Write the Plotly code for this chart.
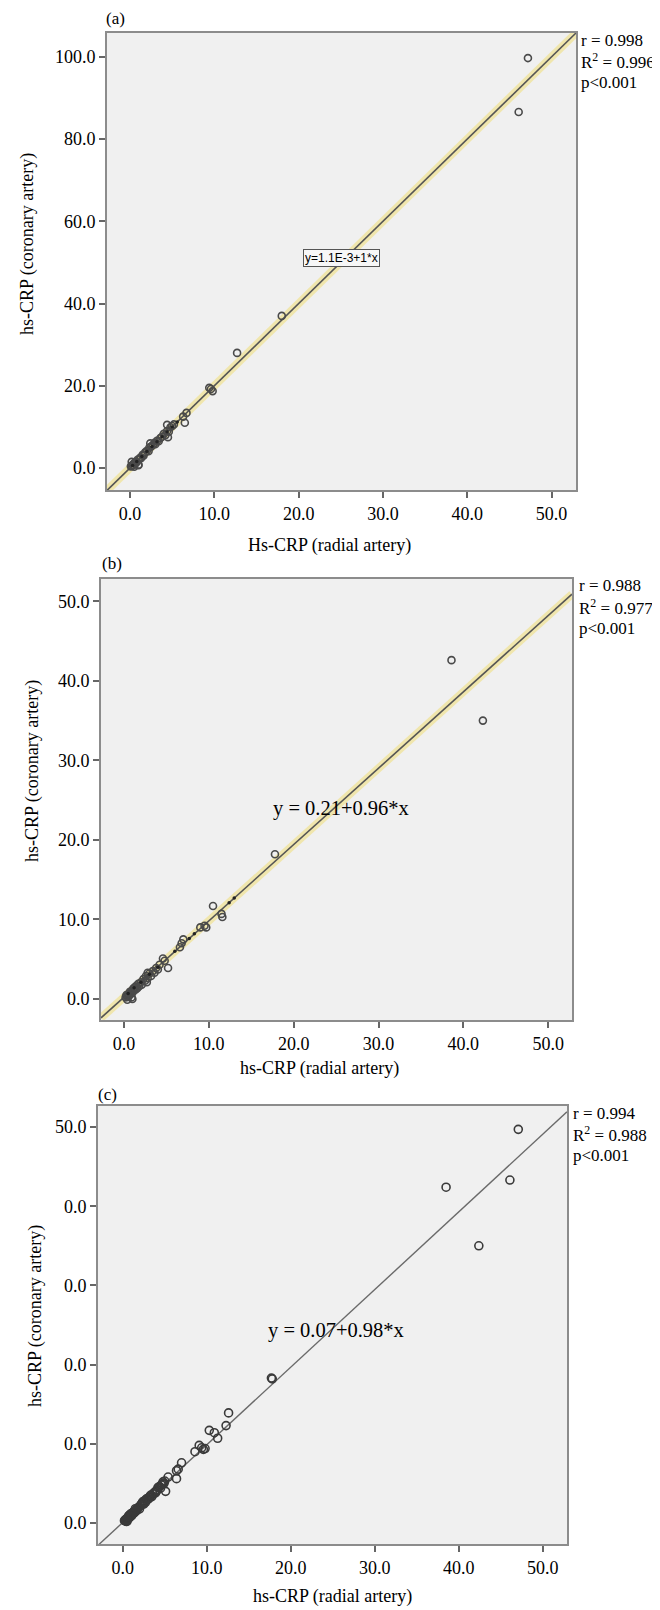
import plotly.graph_objects as go

# The page body has an 8px default margin; the figure is sized to fill the rest.
OFF = 8
W, H = 660 - OFF, 1610 - OFF
SERIF = "Liberation Serif"

# ---------------- data ----------------
# Panel (a)
a_x = [47.2, 46.1, 18.0, 12.7, 9.4, 9.8, 9.6, 6.7, 6.5, 6.3,
       0.1, 0.2, 0.3, 0.4, 0.5, 0.6, 0.7, 0.8, 0.9, 1.0, 1.1, 1.2, 1.3, 1.5, 1.6,
       1.8, 2.0, 2.2, 2.3, 2.5, 2.7, 2.9, 3.0, 3.2, 3.4, 3.6, 3.8, 4.0, 4.2, 4.4,
       4.6, 4.8, 5.0, 5.2, 1.0, 0.2, 0.5, 2.4, 4.4, 4.5]
a_y = [99.7, 86.6, 37.0, 28.0, 19.5, 18.7, 19.2, 13.4, 11.0, 12.5,
       0.4, 0.5, 0.8, 0.7, 1.2, 1.1, 1.5, 1.4, 2.0, 0.8, 2.2, 2.5, 2.4, 3.2, 3.0,
       3.8, 4.2, 4.1, 5.0, 5.2, 5.6, 6.1, 5.8, 6.6, 6.5, 7.3, 7.6, 8.3, 8.0, 9.0,
       8.8, 9.9, 10.2, 10.6, 0.7, 1.5, 0.3, 6.0, 10.5, 7.5]
a_dots_x = [0.3, 0.8, 1.4, 2.0, 2.6, 3.2, 3.8, 4.4, 5.0, 5.6]
a_dots_y = [0.6, 1.6, 2.8, 4.0, 5.2, 6.4, 7.6, 8.8, 10.0, 11.2]
a_fit = (0.0, 2.0)  # intercept, slope of the drawn line
a_eq = "y=1.1E-3+1*x"
a_stats = ["r = 0.998", "R<sup>2</sup> = 0.996", "p&lt;0.001"]

# Panel (b)
b_x = [38.6, 42.3, 17.8, 10.5, 11.5, 11.6, 9.0, 9.5, 9.7, 7.0, 6.6, 6.8, 5.2, 4.6, 4.8,
       0.2, 0.3, 0.4, 0.5, 0.6, 0.7, 0.8, 0.9, 1.0, 1.1, 1.2, 1.3, 1.4, 1.5, 1.6,
       1.7, 1.8, 2.0, 2.1, 2.3, 2.5, 2.6, 2.8, 3.0, 3.2, 3.4, 3.6, 3.8, 4.0, 4.2,
       2.7, 2.8, 0.9, 1.0, 0.5, 0.4]
b_y = [42.6, 35.0, 18.2, 11.7, 10.7, 10.3, 9.0, 9.2, 9.0, 7.5, 6.5, 7.0, 3.9, 5.1, 4.8,
       0.2, 0.5, 0.3, 0.6, 0.4, 0.9, 0.6, 1.0, 0.8, 1.3, 1.1, 1.5, 1.2, 1.7, 1.4,
       1.9, 1.6, 2.1, 1.8, 2.5, 2.3, 2.9, 2.6, 3.2, 2.9, 3.5, 3.3, 3.9, 3.7, 4.3,
       2.1, 3.3, 0.2, 0.0, 0.25, -0.1]
b_dots_x = [0.5, 1.2, 2.0, 3.0, 4.0, 6.0, 7.7, 8.3, 12.4, 13.0]
b_dots_y = [0.7, 1.4, 2.1, 3.1, 4.0, 6.0, 7.6, 8.2, 12.1, 12.7]
b_fit = (0.21, 0.96)
b_eq = "y = 0.21+0.96*x"
b_stats = ["r = 0.988", "R<sup>2</sup> = 0.977", "p&lt;0.001"]

# Panel (c)
c_x = [47.1, 46.1, 38.5, 42.4, 17.7, 17.8,
       12.6, 12.3, 10.3, 10.9, 11.3, 9.1, 9.4, 9.6, 9.8, 8.6, 7.0, 6.4, 6.6, 6.4,
       5.1, 5.4, 4.8, 4.9, 4.6, 4.2, 4.0, 3.8, 3.6, 3.4, 3.2, 3.0, 2.8, 2.6, 2.5,
       2.3, 2.1, 2.0, 1.8, 1.6, 1.5, 1.3, 1.2, 1.1, 1.0, 0.9, 0.8, 0.7, 0.6, 0.5,
       0.4, 0.3, 0.2, 0.5, 0.4, 0.6, 0.7, 1.0, 1.4, 1.7, 2.2, 2.7, 3.3, 3.9, 4.4,
       0.3, 0.5, 0.8, 1.2, 1.5, 1.9, 2.4, 2.9, 4.7, 5.0,
       0.35, 0.45, 0.55, 0.65, 0.75, 0.85, 0.95, 1.05, 1.15, 1.25, 1.35, 1.45,
       2.25, 2.45, 2.65, 3.1, 3.5, 4.1, 4.5, 4.85]
c_y = [49.7, 43.3, 42.4, 35.0, 18.3, 18.2,
       13.9, 12.3, 11.7, 11.4, 10.7, 9.8, 9.5, 9.3, 9.4, 9.0, 7.6, 6.6, 6.8, 5.6,
       4.0, 5.8, 5.2, 5.0, 4.8, 4.5, 4.0, 3.9, 3.7, 3.3, 3.3, 3.0, 3.0, 2.8, 2.4,
       2.5, 2.2, 1.8, 1.9, 1.7, 1.5, 1.4, 1.2, 1.0, 0.9, 0.8, 0.7, 0.6, 0.5, 0.4,
       0.5, 0.3, 0.3, 0.2, 0.2, 0.7, 0.9, 1.2, 1.3, 1.6, 2.3, 2.6, 3.5, 3.8, 4.6,
       0.4, 0.5, 1.0, 1.3, 1.8, 2.0, 2.7, 3.1, 4.9, 5.3,
       0.3, 0.4, 0.6, 0.6, 0.8, 0.9, 1.0, 1.1, 1.1, 1.3, 1.4, 1.5,
       2.4, 2.5, 2.7, 3.1, 3.4, 4.2, 4.4, 5.0]
c_fit = (0.07, 0.98)
c_eq = "y = 0.07+0.98*x"
c_stats = ["r = 0.994", "R<sup>2</sup> = 0.988", "p&lt;0.001"]

x_ticks = [0, 10, 20, 30, 40, 50]
a_yticks = [0, 20, 40, 60, 80, 100]
b_yticks = [0, 10, 20, 30, 40, 50]
c_yticks = [0, 10, 20, 30, 40, 50]
c_yticktext = ["0.0", "0.0", "0.0", "0.0", "0.0", "50.0"]

# ---------------- layout geometry (window pixels) ----------------
def px(x, y):
    return (x - OFF) / W, 1 - (y - OFF) / H

panels = [
    dict(l=107, r=576, t=33, b=490, xr=[-2.73, 52.9], yr=[-5.35, 105.8]),
    dict(l=101, r=572, t=579, b=1020, xr=[-2.7, 52.8], yr=[-2.64, 52.8]),
    dict(l=98, r=567, t=1106, b=1544, xr=[-2.95, 52.9], yr=[-2.65, 52.65]),
]

fig = go.Figure()

axis_common = dict(
    showgrid=False, zeroline=False, showline=True, linecolor="#8c8c8c",
    linewidth=2, mirror=True, ticks="outside", ticklen=6, tickwidth=1.5,
    tickcolor="#666666", tickfont=dict(family=SERIF, size=18, color="black"),
    tickformat=".1f",
)

layout_axes = {}
for i, p in enumerate(panels):
    sfx = "" if i == 0 else str(i + 1)
    x0, _ = px(p["l"], OFF)
    x1, _ = px(p["r"], OFF)
    _, y1 = px(OFF, p["t"])
    _, y0 = px(OFF, p["b"])
    layout_axes["xaxis" + sfx] = dict(axis_common, domain=[x0, x1], range=p["xr"],
                                      tickvals=x_ticks, anchor="y" + sfx)
    layout_axes["yaxis" + sfx] = dict(axis_common, domain=[y0, y1], range=p["yr"],
                                      anchor="x" + sfx)
layout_axes["yaxis"]["tickvals"] = a_yticks
layout_axes["yaxis2"]["tickvals"] = b_yticks
layout_axes["yaxis3"]["tickvals"] = c_yticks
layout_axes["yaxis3"]["ticktext"] = c_yticktext


def add_fit(fit, p, xa, ya, band):
    b0, b1 = fit
    xs = [p["xr"][0], p["xr"][1]]
    ys = [b0 + b1 * v for v in xs]
    if band:
        fig.add_trace(go.Scatter(x=xs, y=ys, mode="lines", xaxis=xa, yaxis=ya,
                                 line=dict(color="rgba(240,228,165,0.9)", width=8),
                                 hoverinfo="skip", showlegend=False))
        fig.add_trace(go.Scatter(x=xs, y=ys, mode="lines", xaxis=xa, yaxis=ya,
                                 line=dict(color="#555555", width=1.6),
                                 hoverinfo="skip", showlegend=False))
    else:
        fig.add_trace(go.Scatter(x=xs, y=ys, mode="lines", xaxis=xa, yaxis=ya,
                                 line=dict(color="#6a6a6a", width=1.4),
                                 hoverinfo="skip", showlegend=False))


def add_points(xs, ys, xa, ya, size=7, color="#4a4a4a"):
    fig.add_trace(go.Scatter(x=xs, y=ys, mode="markers", xaxis=xa, yaxis=ya,
                             marker=dict(symbol="circle-open", size=size,
                                         color=color, line=dict(width=1.6)),
                             showlegend=False))


def add_dots(xs, ys, xa, ya):
    fig.add_trace(go.Scatter(x=xs, y=ys, mode="markers", xaxis=xa, yaxis=ya,
                             marker=dict(symbol="circle", size=3.5, color="#222222"),
                             showlegend=False))


add_fit(a_fit, panels[0], "x", "y", True)
add_points(a_x, a_y, "x", "y")
add_dots(a_dots_x, a_dots_y, "x", "y")

add_fit(b_fit, panels[1], "x2", "y2", True)
add_points(b_x, b_y, "x2", "y2")
add_dots(b_dots_x, b_dots_y, "x2", "y2")

add_fit(c_fit, panels[2], "x3", "y3", False)
add_points(c_x, c_y, "x3", "y3", size=8, color="#3a3a3a")

annotations = []


def text(t, x, y, xanchor="center", size=18, angle=0, family=SERIF, **kw):
    px_, py_ = px(x, y)
    annotations.append(dict(text=t, x=px_, y=py_, xref="paper", yref="paper",
                            xanchor=xanchor, yanchor="middle", showarrow=False,
                            textangle=angle,
                            font=dict(family=family, size=size, color="black"), **kw))


# panel labels
text("(a)", 115, 18, size=17)
text("(b)", 112, 563, size=17)
text("(c)", 107, 1094, size=17)

# stats blocks
for stats, x, ys in [
        (a_stats, 579, [40, 61, 82]),
        (b_stats, 577, [585, 607, 628]),
        (c_stats, 571, [1113, 1134, 1155])]:
    for s, y in zip(stats, ys):
        text(s, x, y, xanchor="left", size=17)

# equations
text(a_eq, 341, 258, size=12, family="Liberation Sans",
     bordercolor="#555555", borderwidth=1, borderpad=1, bgcolor="#f7f7f7")
text(b_eq, 341, 808, size=20.5)
text(c_eq, 336, 1330, size=20.5)

# axis titles
text("hs-CRP (coronary artery)", 27, 244, angle=-90)
text("Hs-CRP (radial artery)", 329, 545)
text("hs-CRP (coronary artery)", 33, 771, angle=-90)
text("hs-CRP (radial artery)", 319, 1068)
text("hs-CRP (coronary artery)", 35, 1316, angle=-90)
text("hs-CRP (radial artery)", 332, 1596)

fig.update_layout(
    width=W, height=H,
    margin=dict(l=0, r=0, t=0, b=0),
    paper_bgcolor="white", plot_bgcolor="#f0f0f0",
    annotations=annotations,
    showlegend=False,
    **layout_axes,
)

fig.write_html("out.html")
